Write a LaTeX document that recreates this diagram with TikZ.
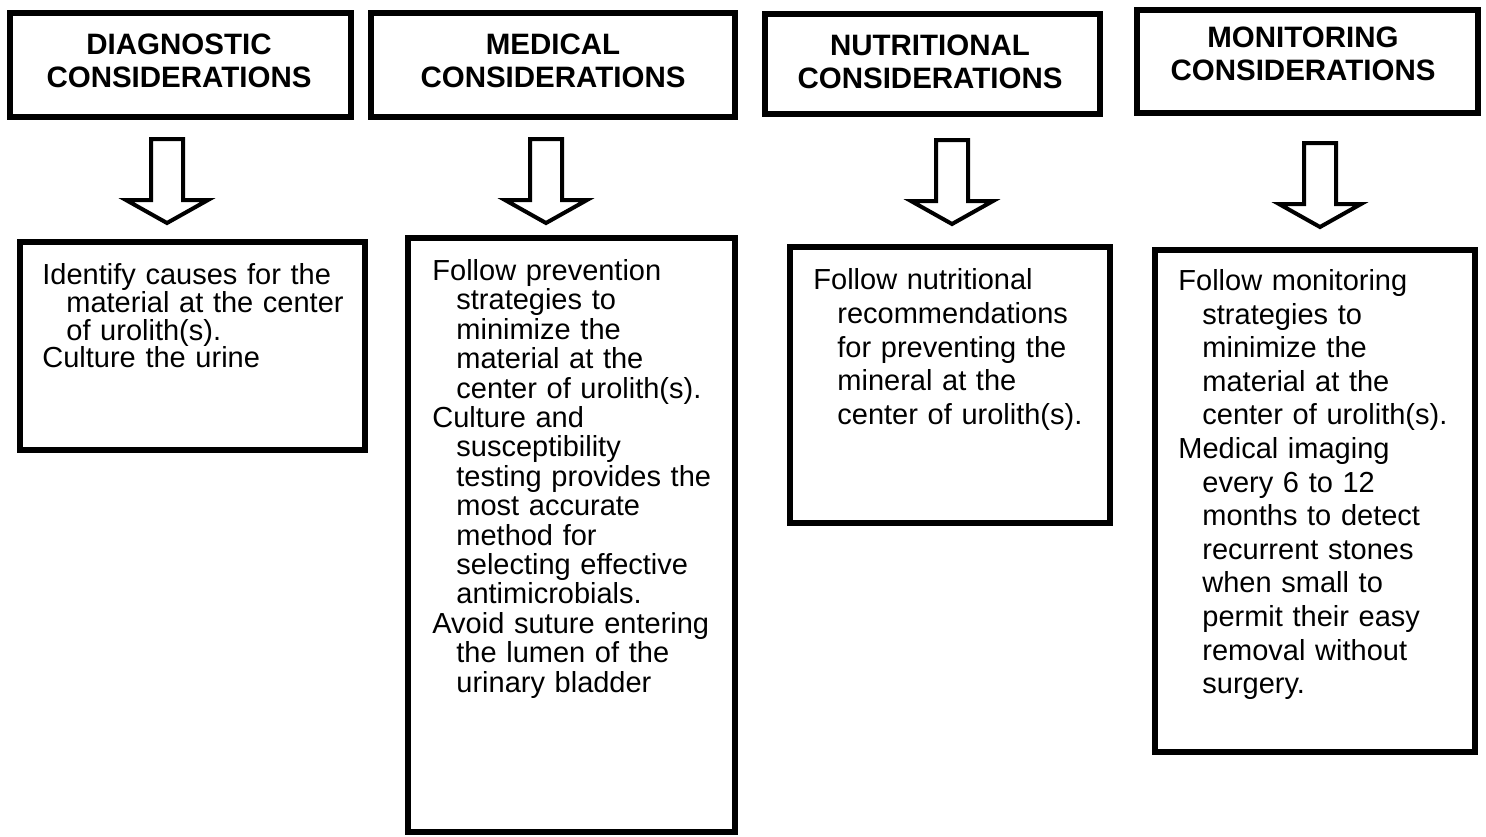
\documentclass[tikz,border=0pt]{standalone}
\usepackage{fontspec}
\setmainfont{Liberation Sans}
\usetikzlibrary{fit}
% one line that hangs: first line flush, the rest indented
\newcommand{\uitem}[1]{\hangindent=12pt\hangafter=1\noindent #1\par}

\begin{document}
\begin{tikzpicture}[
    x=0.5pt,y=-0.5pt,
    headbox/.style={draw,line width=3.3pt,inner sep=0pt},
    bodybox/.style={draw,line width=3.3pt,inner sep=0pt},
    headtext/.style={inner sep=0pt,align=center,font=\bfseries\fontsize{14.75}{16.5}\selectfont},
    bodytext/.style={anchor=north west,inner sep=0pt,text width=165pt,align=left},
    hollow/.style={draw,line width=2pt,fill=white,line join=miter},
]
	\useasboundingbox (0,0) rectangle (1486,836);

	% headers
	\node[headbox,fit={(10,13) (351,117)}] (diagbox) {};
	\node[headtext] (diagtitle) at (179,61) {DIAGNOSTIC\\CONSIDERATIONS};
	\node[headbox,fit={(371,13) (735,117)}] (medbox) {};
	\node[headtext] (medtitle) at (553,61) {MEDICAL\\CONSIDERATIONS};
	\node[headbox,fit={(765,14) (1100,114)}] (nutbox) {};
	\node[headtext] (nuttitle) at (930,62) {NUTRITIONAL\\CONSIDERATIONS};
	\node[headbox,fit={(1137,10) (1478,113)}] (monbox) {};
	\node[headtext] (montitle) at (1303,54) {MONITORING\\CONSIDERATIONS};

	% hollow arrows
	\foreach \x/\y in {167/139, 546/139, 952/140, 1320/143}
	  \draw[hollow] (\x-16,\y) -- ++(32,0) -- ++(0,61) -- ++(25,0) -- ++(-41,23) -- ++(-41,-23) -- ++(25,0) -- cycle;

	% boxes below
	\node[bodybox,fit={(20,242) (365,450)}] (diagbody) {};
	\node[bodytext,font=\fontsize{14.5}{13.9}\selectfont] (diagtext) at (42,263) {%
	  \uitem{Identify causes for the\newline material at the center\newline of urolith(s).}%
	  \uitem{Culture the urine}};

	\node[bodybox,fit={(408,238) (735,832)}] (medbody) {};
	\node[bodytext,font=\fontsize{14.5}{14.7}\selectfont] (medtext) at (432,259) {%
	  \uitem{Follow prevention\newline strategies to\newline minimize the\newline material at the\newline center of urolith(s).}%
	  \uitem{Culture and\newline susceptibility\newline testing provides the\newline most accurate\newline method for\newline selecting effective\newline antimicrobials.}%
	  \uitem{Avoid suture entering\newline the lumen of the\newline urinary bladder}};

	\node[bodybox,fit={(790,247) (1110,523)}] (nutbody) {};
	\node[bodytext,font=\fontsize{14.5}{16.9}\selectfont] (nuttext) at (813,268) {%
	  \uitem{Follow nutritional\newline recommendations\newline for preventing the\newline mineral at the\newline center of urolith(s).}};

	\node[bodybox,fit={(1155,250) (1475,752)}] (monbody) {};
	\node[bodytext,font=\fontsize{14.5}{16.8}\selectfont] (montext) at (1178,269) {%
	  \uitem{Follow monitoring\newline strategies to\newline minimize the\newline material at the\newline center of urolith(s).}%
	  \uitem{Medical imaging\newline every 6 to 12\newline months to detect\newline recurrent stones\newline when small to\newline permit their easy\newline removal without\newline surgery.}};

\end{tikzpicture}
\end{document}
